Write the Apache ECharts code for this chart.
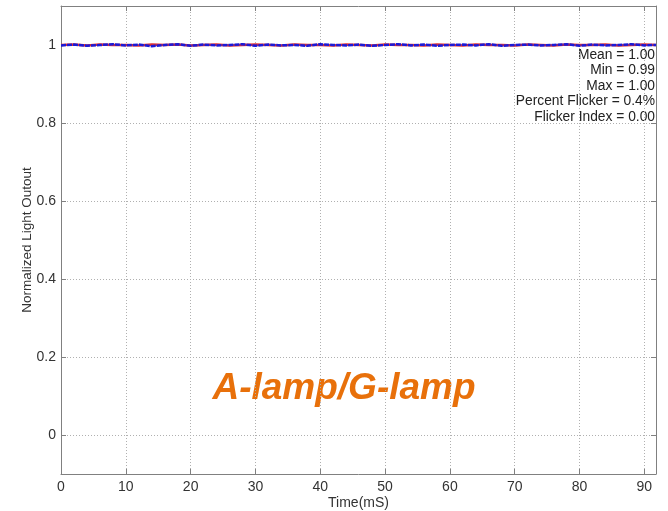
<!DOCTYPE html>
<html><head><meta charset="utf-8">
<script src="https://cdn.jsdelivr.net/npm/echarts@6/dist/echarts.min.js"></script>
<style>html,body{margin:0;padding:0;background:#fff}#c{width:668px;height:511px}</style>
</head><body><div id="c"></div>
<script>
const timeMs = [0,2,4,6,8,10,12,14,16,18,20,22,24,26,28,30,32,34,36,38,40,42,44,46,48,50,52,54,56,58,60,62,64,66,68,70,72,74,76,78,80,82,84,86,88,90,91.8];
const lightBlue = [0.999,1.001,0.998,1.000,1.002,0.999,1.001,0.997,1.000,1.002,0.998,1.001,0.999,1.000,1.002,0.998,1.001,0.999,1.000,0.998,1.002,1.000,0.999,1.001,0.998,1.000,1.002,0.999,1.001,0.998,1.000,1.001,0.999,1.002,0.998,1.000,1.001,0.999,1.000,1.002,0.998,1.001,0.999,1.000,1.002,0.999,1.000];
const lightRed = [1.000,1.001,0.999,1.001,1.000,1.000,0.999,1.001,1.000,1.001,0.999,1.000,1.001,0.999,1.000,1.001,1.000,0.999,1.001,1.000,1.000,0.999,1.001,1.000,0.999,1.001,1.000,1.000,0.999,1.001,1.000,0.999,1.001,1.000,1.000,0.999,1.001,1.000,0.999,1.001,1.000,1.000,1.001,0.999,1.000,1.001,1.000];
const yTicks = [0,0.2,0.4,0.6,0.8,1];
const statsLines = ['Mean = 1.00','Min = 0.99','Max = 1.00','Percent Flicker = 0.4%','Flicker Index = 0.00'];
const lampLabel = 'A-lamp/G-lamp';
const xTitle = 'Time(mS)';
const yTitle = 'Normalized Light Outout';

const chart = echarts.init(document.getElementById('c'));
const pair = a => timeMs.map((t,i)=>[t,a[i]]);
const font = 'Arial, "Liberation Sans", sans-serif';
const gridLine = {show:true,lineStyle:{color:'#b0b0b0',type:[1,2],width:1}};
const statGraphics = statsLines.map((s,i)=>({
  type:'text',x:655,y:55+i*15.5,
  style:{text:s,align:'right',verticalAlign:'middle',fill:'#222',font:'13.8px '+font}
}));
chart.setOption({
  animation:false,
  grid:{left:61,right:12,top:6,bottom:37,containLabel:false,outerBoundsMode:'none'},
  xAxis:[{
    type:'value',min:0,max:91.8,interval:10,
    axisLine:{show:true,onZero:false,lineStyle:{color:'#808080',width:1}},
    axisTick:{show:true,inside:true,length:5,lineStyle:{color:'#808080'}},
    axisLabel:{color:'#333',fontSize:14,fontFamily:font,margin:6,showMaxLabel:false},
    splitLine:gridLine,
    name:xTitle,nameLocation:'middle',nameGap:22,nameMoveOverlap:false,
    nameTextStyle:{color:'#333',fontSize:14,fontFamily:font}
  },{
    type:'value',min:0,max:91.8,interval:10,position:'top',
    axisLine:{show:true,onZero:false,lineStyle:{color:'#808080',width:1}},
    axisTick:{show:true,inside:true,length:5,lineStyle:{color:'#808080'}},
    axisLabel:{show:false},splitLine:{show:false}
  }],
  yAxis:[{
    type:'value',min:-0.1,max:1.1,
    axisLine:{show:true,onZero:false,lineStyle:{color:'#808080',width:1}},
    axisTick:{show:true,inside:true,length:5,customValues:yTicks,lineStyle:{color:'#808080'}},
    axisLabel:{color:'#333',fontSize:14,fontFamily:font,margin:5,customValues:yTicks},
    splitLine:gridLine,
    name:yTitle,nameLocation:'middle',nameGap:27,nameMoveOverlap:false,
    nameTextStyle:{color:'#333',fontSize:13.5,fontFamily:font}
  },{
    type:'value',min:-0.1,max:1.1,position:'right',
    axisLine:{show:true,onZero:false,lineStyle:{color:'#808080',width:1}},
    axisTick:{show:true,inside:true,length:5,customValues:yTicks,lineStyle:{color:'#808080'}},
    axisLabel:{show:false},splitLine:{show:false}
  }],
  series:[
    {type:'line',data:pair(lightRed),showSymbol:false,lineStyle:{color:'#e03030',width:2.5}},
    {type:'line',data:pair(lightBlue),showSymbol:false,lineStyle:{color:'#1a1ad8',width:2.5,type:[5,1]}}
  ],
  graphic:statGraphics.concat([
    {type:'text',x:344,y:389,style:{text:lampLabel,align:'center',verticalAlign:'middle',fill:'#e8700a',font:'italic bold 37px '+font}}
  ])
});
</script></body></html>
